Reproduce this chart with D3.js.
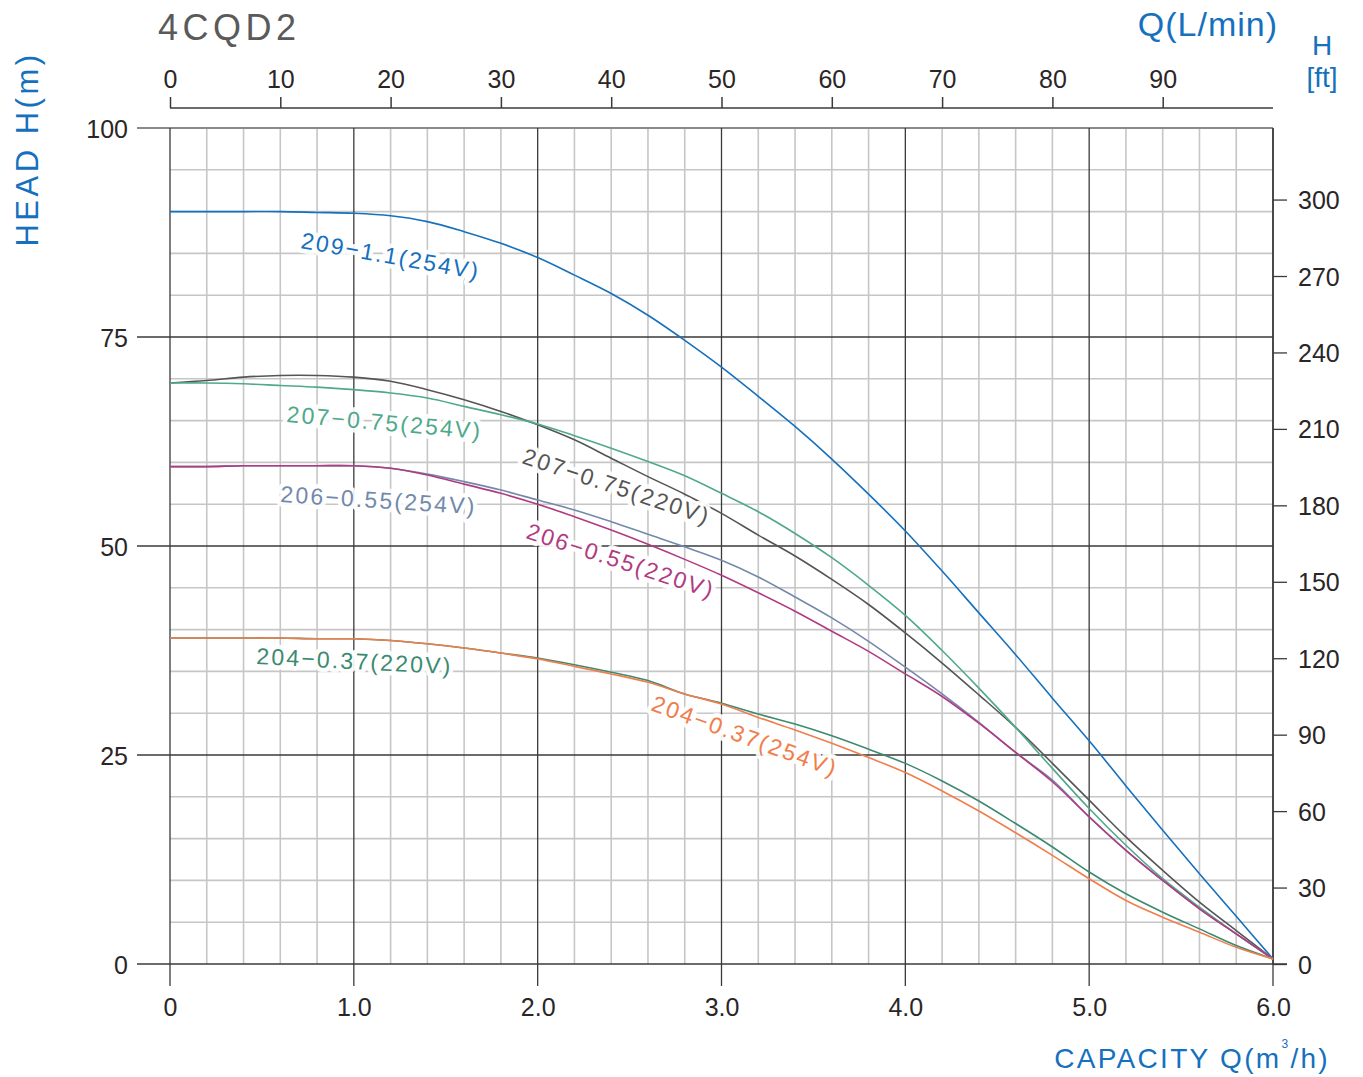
<!DOCTYPE html>
<html>
<head>
<meta charset="utf-8">
<script src="https://cdn.jsdelivr.net/npm/d3@7"></script>
<style>
  html, body { margin: 0; padding: 0; background: #fff; }
  svg { display: block; font-family: "Liberation Sans", Arial, Helvetica, sans-serif; }
</style>
</head>
<body>
<svg id="chart" width="1363" height="1077"></svg>
<script>
// ---------- DATA ----------
const flowQ = [0,0.2,0.4,0.6,0.8,1.0,1.2,1.4,1.6,1.8,2.0,2.2,2.4,2.6,2.8,3.0,3.2,3.4,3.6,3.8,4.0,4.2,4.4,4.6,4.8,5.0,5.2,5.4,5.6,5.8,6.0];

const head209_254 = [90.0,90.0,90.0,90.0,89.9,89.8,89.5,88.8,87.6,86.2,84.5,82.4,80.2,77.6,74.6,71.4,67.9,64.3,60.4,56.2,51.8,47.0,42.0,37.0,31.8,26.7,21.3,16.0,10.8,5.7,0.6];
const head207_220 = [69.5,69.8,70.2,70.4,70.4,70.2,69.7,68.7,67.5,66.1,64.5,62.7,60.5,58.3,56.2,53.9,51.3,48.8,46.0,43.0,39.6,36.0,32.2,28.3,24.0,19.6,15.2,11.2,7.4,4.0,0.6];
const head207_254 = [69.5,69.5,69.4,69.2,69.0,68.7,68.3,67.7,66.7,65.7,64.6,63.2,61.7,60.1,58.4,56.3,54.1,51.5,48.6,45.3,41.7,37.5,33.0,28.3,23.4,18.6,14.2,10.2,6.8,3.6,0.6];
const head206_254 = [59.5,59.5,59.6,59.6,59.6,59.6,59.3,58.6,57.7,56.7,55.5,54.3,52.9,51.4,49.9,48.3,46.3,43.9,41.4,38.6,35.5,32.3,28.9,25.3,22.0,17.6,13.6,10.0,6.6,3.6,0.6];
const head206_220 = [59.5,59.5,59.6,59.6,59.6,59.6,59.3,58.5,57.4,56.3,55.0,53.5,51.9,50.2,48.4,46.5,44.4,42.2,39.8,37.4,34.7,32.0,28.8,25.3,21.8,17.6,13.6,10.0,6.6,3.6,0.6];
const head204_220 = [39.0,39.0,39.0,39.0,38.9,38.9,38.7,38.3,37.8,37.2,36.6,35.8,34.9,33.9,32.3,31.2,29.9,28.7,27.3,25.7,24.0,21.9,19.5,16.8,14.0,11.0,8.4,6.2,4.2,2.2,0.6];
const head204_254 = [39.0,39.0,39.0,39.0,38.9,38.9,38.7,38.3,37.8,37.2,36.5,35.6,34.7,33.7,32.3,31.1,29.5,28.0,26.4,24.7,22.9,20.7,18.3,15.7,13.0,10.2,7.6,5.6,3.8,2.0,0.6];

const seriesNames = ["209−1.1(254V)","207−0.75(220V)","207−0.75(254V)","206−0.55(254V)","206−0.55(220V)","204−0.37(220V)","204−0.37(254V)"];

const bottomTicks = [0,1,2,3,4,5,6];
const bottomTickLabels = ["0","1.0","2.0","3.0","4.0","5.0","6.0"];
const leftTicks = [0,25,50,75,100];
const topTicks = [0,10,20,30,40,50,60,70,80,90];
const rightTicks = [0,30,60,90,120,150,180,210,240,270,300];

// ---------- LAYOUT / STYLE ----------
const X0 = 170, X1 = 1273, Y0 = 964, Y1 = 128;
const blue = "#1570be";
const series = [
  { name: seriesNames[0], values: head209_254, color: "#1570be", lx: 300, ly: 248, ang: 10 },
  { name: seriesNames[1], values: head207_220, color: "#555555", lx: 521, ly: 463, ang: 18.4 },
  { name: seriesNames[2], values: head207_254, color: "#4fa98a", lx: 286, ly: 422, ang: 5 },
  { name: seriesNames[3], values: head206_254, color: "#7389ab", lx: 280, ly: 502, ang: 3.6 },
  { name: seriesNames[4], values: head206_220, color: "#b03b82", lx: 525, ly: 538, ang: 18 },
  { name: seriesNames[5], values: head204_220, color: "#3c8a70", lx: 256, ly: 664, ang: 3 },
  { name: seriesNames[6], values: head204_254, color: "#f07e4c", lx: 650, ly: 710, ang: 20 }
];

const svg = d3.select("#chart");
const x = d3.scaleLinear().domain([0, 6]).range([X0, X1]);
const y = d3.scaleLinear().domain([0, 100]).range([Y0, Y1]);
const xL = d3.scaleLinear().domain([0, 100]).range([X0, X1]);        // L/min
const yFt = d3.scaleLinear().domain([0, 100 / 0.3048]).range([Y0, Y1]); // feet

// ---------- GRID ----------
const g = svg.append("g");
const minorX = d3.range(0, 31).map(i => i * 0.2).filter(v => Math.abs(v - Math.round(v)) > 1e-6);
const minorY = d3.range(0, 21).map(i => i * 5).filter(v => v % 25 !== 0);

g.selectAll(".mx").data(minorX).enter().append("line")
  .attr("x1", d => x(d)).attr("x2", d => x(d)).attr("y1", Y1).attr("y2", Y0)
  .attr("stroke", "#c6c6c6").attr("stroke-width", 1.6);
g.selectAll(".my").data(minorY).enter().append("line")
  .attr("x1", X0).attr("x2", X1).attr("y1", d => y(d)).attr("y2", d => y(d))
  .attr("stroke", "#c6c6c6").attr("stroke-width", 1.6);

g.selectAll(".My").data(leftTicks).enter().append("line")
  .attr("x1", 137).attr("x2", d => d === 0 ? 1287 : X1)
  .attr("y1", d => y(d)).attr("y2", d => y(d))
  .attr("stroke", d => d === 100 ? "#8a8a8a" : "#3a3a3a")
  .attr("stroke-width", d => d === 100 ? 1.8 : 1.3);
g.selectAll(".Mx").data(bottomTicks).enter().append("line")
  .attr("x1", d => x(d)).attr("x2", d => x(d)).attr("y1", Y1).attr("y2", 986)
  .attr("stroke", "#3a3a3a").attr("stroke-width", 1.3);

// ---------- AXES TEXT ----------
const tickFont = 25;
const tickColor = "#2a2627";

const bAxis = d3.axisBottom(x).tickValues(bottomTicks).tickFormat((d, i) => bottomTickLabels[i]).tickSize(0).tickPadding(0);
const bG = svg.append("g").attr("transform", `translate(0,${Y0})`).call(bAxis);
bG.select(".domain").remove();
bG.selectAll("text").attr("font-size", tickFont).attr("fill", tickColor).attr("dy", 0).attr("y", 52)
  .attr("font-family", "Liberation Sans, Arial, sans-serif");

const lAxis = d3.axisLeft(y).tickValues(leftTicks).tickSize(0).tickPadding(0);
const lG = svg.append("g").attr("transform", `translate(${X0},0)`).call(lAxis);
lG.select(".domain").remove();
lG.selectAll("text").attr("font-size", tickFont).attr("fill", tickColor).attr("x", -42).attr("dy", "0.36em")
  .attr("font-family", "Liberation Sans, Arial, sans-serif");

const tAxis = d3.axisTop(xL).tickValues(topTicks).tickSize(11).tickPadding(9);
const tG = svg.append("g").attr("transform", `translate(0,108)`).call(tAxis);
tG.select(".domain").attr("d", `M${X0},0H${X1}`).attr("stroke", "#3a3a3a").attr("stroke-width", 1.5);
tG.selectAll(".tick line").attr("stroke", "#3a3a3a").attr("stroke-width", 1.5);
tG.selectAll("text").attr("font-size", tickFont).attr("fill", tickColor)
  .attr("font-family", "Liberation Sans, Arial, sans-serif");

const rAxis = d3.axisRight(yFt).tickValues(rightTicks).tickSize(14).tickPadding(11);
const rG = svg.append("g").attr("transform", `translate(${X1},0)`).call(rAxis);
rG.select(".domain").attr("d", `M0,${Y1}V${Y0}`).attr("stroke", "#3a3a3a").attr("stroke-width", 1.5);
rG.selectAll(".tick line").attr("stroke", "#3a3a3a").attr("stroke-width", 1.3);
rG.selectAll("text").attr("font-size", tickFont).attr("fill", tickColor).attr("dy", "0.36em")
  .attr("font-family", "Liberation Sans, Arial, sans-serif");

// ---------- CURVES ----------
const line = d3.line().x((d, i) => x(flowQ[i])).y(d => y(d)).curve(d3.curveCatmullRom.alpha(0.5));
const cG = svg.append("g");
series.forEach(s => {
  cG.append("path").attr("d", line(s.values)).attr("fill", "none")
    .attr("stroke", s.color).attr("stroke-width", 1.6);
});

// ---------- CURVE LABELS ----------
const lblG = svg.append("g");
series.forEach(s => {
  lblG.append("text")
    .attr("transform", `translate(${s.lx},${s.ly}) rotate(${s.ang})`)
    .attr("font-size", 23).attr("letter-spacing", "2.2px")
    .attr("fill", s.color)
    .attr("stroke", "rgba(255,255,255,0.92)").attr("stroke-width", 9)
    .attr("stroke-linejoin", "round").attr("paint-order", "stroke")
    .text(s.name);
});

// ---------- TITLES ----------
svg.append("text").attr("x", 158).attr("y", 40).attr("font-size", 36).attr("letter-spacing", "4.5px")
  .attr("fill", "#5a5a5a").text("4CQD2");

svg.append("text").attr("x", 1278).attr("y", 36).attr("text-anchor", "end").attr("font-size", 34)
  .attr("letter-spacing", "1px").attr("fill", blue).text("Q(L/min)");

svg.append("text").attr("x", 1322).attr("y", 55).attr("text-anchor", "middle").attr("font-size", 28)
  .attr("fill", blue).text("H");
svg.append("text").attr("x", 1322).attr("y", 87).attr("text-anchor", "middle").attr("font-size", 28)
  .attr("fill", blue).text("[ft]");

svg.append("text").attr("transform", "translate(38,149) rotate(-90)").attr("text-anchor", "middle")
  .attr("font-size", 31).attr("letter-spacing", "3.5px").attr("fill", blue).text("HEAD H(m)");

const cap = svg.append("text").attr("x", 1330).attr("y", 1068).attr("text-anchor", "end")
  .attr("font-size", 28).attr("letter-spacing", "2.3px").attr("fill", blue);
cap.append("tspan").text("CAPACITY Q(m");
cap.append("tspan").attr("font-size", 12).attr("dy", -20).text("3");
cap.append("tspan").attr("dy", 20).text("/h)");
</script>
</body>
</html>
